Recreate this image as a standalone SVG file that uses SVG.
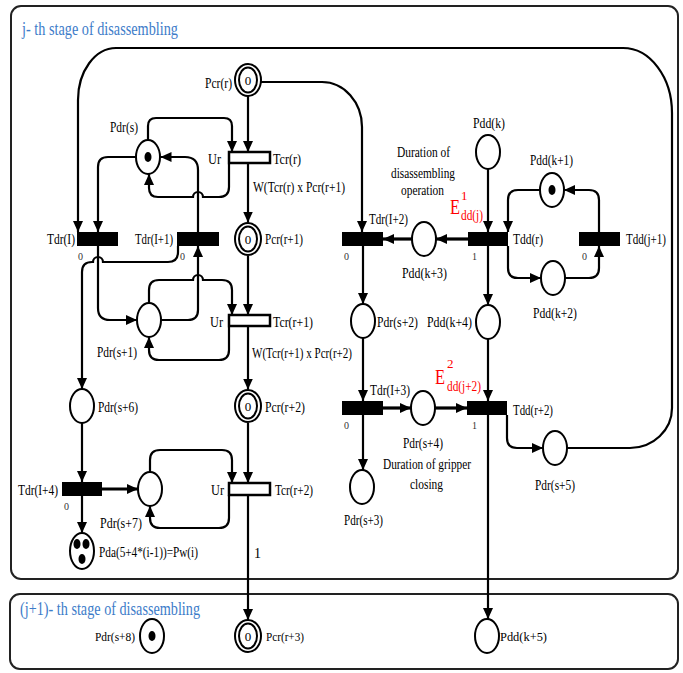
<svg xmlns="http://www.w3.org/2000/svg" width="683" height="673" viewBox="0 0 683 673">
<defs>
<marker id="ah" markerWidth="11" markerHeight="10" refX="11" refY="5" orient="auto" markerUnits="userSpaceOnUse"><path d="M0,0 L11,5 L0,10 z" fill="#000"/></marker>
<style>
.c{fill:none;stroke:#000;stroke-width:2}
.ca{fill:none;stroke:#000;stroke-width:2.2;marker-end:url(#ah)}
.tk{fill:none;stroke:#000;stroke-width:3.2;marker-end:url(#ah)}
.p{fill:#fff;stroke:#000;stroke-width:2}
.tok{fill:#000}
.tb{fill:#000}
.tw{fill:#fff;stroke:#000;stroke-width:2.5}
text{font-family:"Liberation Serif","Times New Roman",serif;fill:#000}
.l{font-size:14px}
.sm{font-size:12px}
.z{font-size:10px;fill:#333}
.n{font-size:13px;text-anchor:middle;fill:#000}
.ttl{font-size:19px;fill:#3d7cc9}
.red{fill:#f00}
.box{fill:#fff;stroke:#222;stroke-width:2}
</style>
</defs>
<rect width="683" height="673" fill="#fff"/>
<g id="stage-j">
<rect class="box" x="11" y="6" width="667" height="573" rx="10"/>
<text class="ttl" x="22" y="35" textLength="156" lengthAdjust="spacingAndGlyphs">j- th stage of disassembling</text>
</g>
<g id="stage-j1">
<rect class="box" x="10" y="594" width="668" height="75" rx="10"/>
<text class="ttl" x="20" y="615" textLength="180" lengthAdjust="spacingAndGlyphs">(j+1)- th stage of disassembling</text>
</g>

<g id="connectors">
<path class="ca" d="M567,448 H630 A42,40 0 0 0 672,408 V113 A49,65 0 0 0 623,48 H116 A38,52 0 0 0 78,100 V232"/>
<path class="ca" d="M261,82 H322 A40,45 0 0 1 362,127 V232"/>
<path class="ca" d="M148,140 V126 Q148,118 156,118 H224 Q232,118 232,126 V152"/>
<path class="ca" d="M248,96 V152"/>
<path class="ca" d="M136,157 H108 Q98,157 98,167 V232"/>
<path class="ca" d="M198,232 V170 Q198,157 185,157 H160.5"/>
<path class="ca" d="M229,164 V187 Q229,197 219,197 H203 A5,5 0 0 0 193,197 H158 Q149,197 149,188 V174"/>
<path class="ca" d="M248,164 V222.5"/>
<path class="ca" d="M248,256 V315"/>
<path class="ca" d="M98,246 V308 Q98,320 110,320 H137"/>
<path class="ca" d="M178,246 V252 Q178,262 168,262 H103 A5,5 0 0 0 93,262 H92 Q82,262 82,272 V389"/>
<path class="ca" d="M149,303 V290 Q149,280 159,280 H193 A5,5 0 0 1 203,280 H222 Q232,280 232,290 V315"/>
<path class="ca" d="M161,320 H188 Q198,320 198,310 V246"/>
<path class="ca" d="M229,327 V350 Q229,360 219,360 H159 Q149,360 149,350 V337"/>
<path class="ca" d="M248,327 V389.5"/>
<path class="ca" d="M248,423 V483"/>
<path class="ca" d="M82,423 V482"/>
<path class="tk" d="M102,489 H138"/>
<path class="ca" d="M82,496 V533"/>
<path class="ca" d="M150,472 V460 Q150,450 160,450 H222 Q232,450 232,460 V483"/>
<path class="ca" d="M229,495 V518 Q229,528 219,528 H160 Q150,528 150,518 V506"/>
<path class="ca" d="M248,495 V620"/>
<path class="ca" d="M488,169 V232"/>
<path class="tk" d="M468,239 H436"/>
<path class="tk" d="M412,239 H383"/>
<path class="ca" d="M540,190 H518 Q508,190 508,200 V232"/>
<path class="ca" d="M508,246 V268 Q508,278 518,278 H541"/>
<path class="ca" d="M565,278 H589 Q599,278 599,268 V246"/>
<path class="ca" d="M599,232 V200 Q599,190 589,190 H564"/>
<path class="ca" d="M363,246 V304"/>
<path class="ca" d="M488,246 V305"/>
<path class="ca" d="M363,338 V401"/>
<path class="ca" d="M488,339 V401"/>
<path class="tk" d="M383,408 H411"/>
<path class="tk" d="M435,408 H467"/>
<path class="ca" d="M363,415 V470"/>
<path class="ca" d="M507,415 V438 Q507,448 517,448 H543"/>
<path class="ca" d="M488,415 V619"/>
</g>

<g id="Pcr_r"><ellipse class="p" cx="248" cy="80" rx="13" ry="16"/><ellipse class="p" cx="248" cy="80" rx="9" ry="12.5"/><text class="n" x="248" y="85">0</text><text class="l" x="205" y="88" textLength="27" lengthAdjust="spacingAndGlyphs">Pcr(r)</text></g>
<g id="Pdr_s"><ellipse class="p" cx="148" cy="157" rx="12" ry="17"/><ellipse class="tok" cx="148" cy="157" rx="3.5" ry="5"/><text class="l" x="110" y="132" textLength="28" lengthAdjust="spacingAndGlyphs">Pdr(s)</text></g>
<g id="Tcr_r"><rect class="tw" x="229" y="152" width="41" height="11"/><text class="l" x="208" y="164" textLength="13" lengthAdjust="spacingAndGlyphs">Ur</text><text class="l" x="273" y="164" textLength="28" lengthAdjust="spacingAndGlyphs">Tcr(r)</text><text class="l" x="253" y="192" textLength="92" lengthAdjust="spacingAndGlyphs">W(Tcr(r) x Pcr(r+1)</text></g>
<g id="Tdr_I"><rect class="tb" x="77" y="232" width="41" height="14"/><text class="l" x="47" y="244" textLength="28" lengthAdjust="spacingAndGlyphs">Tdr(I)</text><text class="z" x="78" y="260">0</text></g>
<g id="Tdr_I1"><rect class="tb" x="177" y="232" width="42" height="14"/><text class="l" x="135" y="244" textLength="38" lengthAdjust="spacingAndGlyphs">Tdr(I+1)</text><text class="z" x="180" y="260">0</text></g>
<g id="Pcr_r1"><ellipse class="p" cx="248" cy="239" rx="13" ry="16"/><ellipse class="p" cx="248" cy="239" rx="9" ry="12.5"/><text class="n" x="248" y="244">0</text><text class="l" x="265" y="244" textLength="38" lengthAdjust="spacingAndGlyphs">Pcr(r+1)</text></g>
<g id="Pdr_s1"><ellipse class="p" cx="149" cy="320" rx="12" ry="17"/><text class="l" x="97" y="357" textLength="40" lengthAdjust="spacingAndGlyphs">Pdr(s+1)</text></g>
<g id="Tcr_r1"><rect class="tw" x="229" y="315" width="41" height="11"/><text class="l" x="210" y="327" textLength="13" lengthAdjust="spacingAndGlyphs">Ur</text><text class="l" x="273" y="327" textLength="40" lengthAdjust="spacingAndGlyphs">Tcr(r+1)</text><text class="l" x="252" y="358" textLength="100" lengthAdjust="spacingAndGlyphs">W(Tcr(r+1) x Pcr(r+2)</text></g>
<g id="Pdr_s6"><ellipse class="p" cx="82" cy="406" rx="12" ry="17"/><text class="l" x="98" y="412" textLength="40" lengthAdjust="spacingAndGlyphs">Pdr(s+6)</text></g>
<g id="Pcr_r2"><ellipse class="p" cx="248" cy="406" rx="13" ry="16"/><ellipse class="p" cx="248" cy="406" rx="9" ry="12.5"/><text class="n" x="248" y="411">0</text><text class="l" x="265" y="412" textLength="40" lengthAdjust="spacingAndGlyphs">Pcr(r+2)</text></g>
<g id="Tdr_I4"><rect class="tb" x="62" y="482" width="40" height="14"/><text class="l" x="18" y="495" textLength="40" lengthAdjust="spacingAndGlyphs">Tdr(I+4)</text><text class="z" x="64" y="510">0</text></g>
<g id="Pdr_s7"><ellipse class="p" cx="150" cy="489" rx="12" ry="17"/><text class="l" x="100" y="528" textLength="42" lengthAdjust="spacingAndGlyphs">Pdr(s+7)</text></g>
<g id="Tcr_r2"><rect class="tw" x="229" y="483" width="41" height="12"/><text class="l" x="211" y="495" textLength="13" lengthAdjust="spacingAndGlyphs">Ur</text><text class="l" x="275" y="495" textLength="38" lengthAdjust="spacingAndGlyphs">Tcr(r+2)</text><text class="l" x="254" y="558">1</text></g>
<g id="Pda"><ellipse class="p" cx="82" cy="551" rx="12" ry="18"/><ellipse class="tok" cx="77" cy="544" rx="3.5" ry="5"/><ellipse class="tok" cx="86" cy="544" rx="3.5" ry="5"/><ellipse class="tok" cx="82" cy="559" rx="3.5" ry="5"/><text class="l" x="99" y="557" textLength="99" lengthAdjust="spacingAndGlyphs">Pda(5+4*(i-1))=Pw(i)</text></g>

<g id="Pdd_k"><ellipse class="p" cx="488" cy="152" rx="12" ry="17"/><text class="l" x="473" y="128" textLength="32" lengthAdjust="spacingAndGlyphs">Pdd(k)</text></g>
<g id="note1"><text class="l" x="397" y="157" textLength="53" lengthAdjust="spacingAndGlyphs">Duration of</text><text class="l" x="391" y="178" textLength="64" lengthAdjust="spacingAndGlyphs">disassembling</text><text class="l" x="401" y="195" textLength="43" lengthAdjust="spacingAndGlyphs">operation</text>
<text class="red" x="450" y="214" font-size="20" textLength="10" lengthAdjust="spacingAndGlyphs">E</text><text class="red" x="461" y="200" font-size="13">1</text><text class="red" x="461" y="220" font-size="14" textLength="22" lengthAdjust="spacingAndGlyphs">dd(j)</text></g>
<g id="Pdd_k1"><ellipse class="p" cx="552" cy="190" rx="12" ry="17"/><ellipse class="tok" cx="552" cy="190" rx="3.5" ry="5"/><text class="l" x="530" y="165" textLength="43" lengthAdjust="spacingAndGlyphs">Pdd(k+1)</text></g>
<g id="Tdr_I2"><rect class="tb" x="342" y="232" width="41" height="14"/><text class="l" x="369" y="224" textLength="39" lengthAdjust="spacingAndGlyphs">Tdr(I+2)</text><text class="z" x="344" y="260">0</text></g>
<g id="Pdd_k3"><ellipse class="p" cx="424" cy="239" rx="12" ry="17"/><text class="l" x="402" y="278" textLength="45" lengthAdjust="spacingAndGlyphs">Pdd(k+3)</text></g>
<g id="Tdd_r"><rect class="tb" x="468" y="232" width="40" height="14"/><text class="l" x="513" y="244" textLength="30" lengthAdjust="spacingAndGlyphs">Tdd(r)</text><text class="z" x="472" y="260">1</text></g>
<g id="Tdd_j1"><rect class="tb" x="579" y="232" width="41" height="14"/><text class="l" x="626" y="244" textLength="40" lengthAdjust="spacingAndGlyphs">Tdd(j+1)</text><text class="z" x="582" y="260">0</text></g>
<g id="Pdd_k2"><ellipse class="p" cx="553" cy="278" rx="12" ry="17"/><text class="l" x="533" y="318" textLength="44" lengthAdjust="spacingAndGlyphs">Pdd(k+2)</text></g>
<g id="Pdr_s2"><ellipse class="p" cx="363" cy="321" rx="12" ry="17"/><text class="l" x="377" y="327" textLength="41" lengthAdjust="spacingAndGlyphs">Pdr(s+2)</text></g>
<g id="Pdd_k4"><ellipse class="p" cx="488" cy="322" rx="12" ry="17"/><text class="l" x="427" y="327" textLength="45" lengthAdjust="spacingAndGlyphs">Pdd(k+4)</text></g>
<g id="note2"><text class="red" x="435" y="384" font-size="21" textLength="10" lengthAdjust="spacingAndGlyphs">E</text><text class="red" x="447" y="368" font-size="13">2</text><text class="red" x="447" y="391" font-size="14" textLength="34" lengthAdjust="spacingAndGlyphs">dd(j+2)</text></g>
<g id="Tdr_I3"><rect class="tb" x="342" y="401" width="41" height="14"/><text class="l" x="370" y="395" textLength="40" lengthAdjust="spacingAndGlyphs">Tdr(I+3)</text><text class="z" x="344" y="429">0</text></g>
<g id="Pdr_s4"><ellipse class="p" cx="423" cy="408" rx="12" ry="17"/><text class="l" x="403" y="448" textLength="40" lengthAdjust="spacingAndGlyphs">Pdr(s+4)</text><text class="l" x="383" y="469" textLength="88" lengthAdjust="spacingAndGlyphs">Duration of gripper</text><text class="l" x="410" y="489" textLength="33" lengthAdjust="spacingAndGlyphs">closing</text></g>
<g id="Tdd_r2"><rect class="tb" x="467" y="401" width="40" height="14"/><text class="l" x="513" y="415" textLength="40" lengthAdjust="spacingAndGlyphs">Tdd(r+2)</text><text class="z" x="472" y="429">1</text></g>
<g id="Pdr_s5"><ellipse class="p" cx="555" cy="448" rx="12" ry="17"/><text class="l" x="535" y="490" textLength="40" lengthAdjust="spacingAndGlyphs">Pdr(s+5)</text></g>
<g id="Pdr_s3"><ellipse class="p" cx="362" cy="487" rx="12" ry="17"/><text class="l" x="344" y="525" textLength="39" lengthAdjust="spacingAndGlyphs">Pdr(s+3)</text></g>

<g id="Pdr_s8"><ellipse class="p" cx="152" cy="636" rx="12" ry="17"/><ellipse class="tok" cx="152" cy="636" rx="3.5" ry="5"/><text class="sm" x="95" y="641" textLength="40" lengthAdjust="spacingAndGlyphs">Pdr(s+8)</text></g>
<g id="Pcr_r3"><ellipse class="p" cx="248" cy="636" rx="13" ry="16"/><ellipse class="p" cx="248" cy="636" rx="9" ry="12.5"/><text class="n" x="248" y="641">0</text><text class="sm" x="266" y="641" textLength="38" lengthAdjust="spacingAndGlyphs">Pcr(r+3)</text></g>
<g id="Pdd_k5"><ellipse class="p" cx="487" cy="636" rx="12" ry="17"/><text class="sm" x="500" y="641" textLength="47" lengthAdjust="spacingAndGlyphs">Pdd(k+5)</text></g>
</svg>
